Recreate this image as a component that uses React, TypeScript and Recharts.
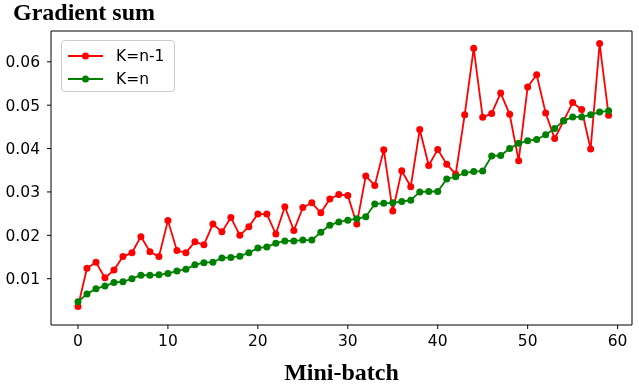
import { Label, Legend, Line, LineChart, ReferenceLine, XAxis, YAxis } from "recharts";

// Mini-batch index 0..59
const batches = [
    0, 1, 2, 3, 4, 5, 6, 7, 8, 9, 10, 11, 12, 13, 14, 15, 16, 17, 18, 19,
    20, 21, 22, 23, 24, 25, 26, 27, 28, 29, 30, 31, 32, 33, 34, 35, 36, 37, 38, 39,
    40, 41, 42, 43, 44, 45, 46, 47, 48, 49, 50, 51, 52, 53, 54, 55, 56, 57, 58, 59,
];
// K=n-1
const kMinusOne = [
    0.0036, 0.0124, 0.0138, 0.0102, 0.012, 0.0151, 0.016, 0.0197, 0.0162, 0.0151,
    0.0234, 0.0165, 0.016, 0.0185, 0.0178, 0.0226, 0.0208, 0.0241, 0.02, 0.022,
    0.0249, 0.0249, 0.0203, 0.0266, 0.0211, 0.0264, 0.0275, 0.0252, 0.0284, 0.0294,
    0.0292, 0.0226, 0.0337, 0.0315, 0.0397, 0.0256, 0.0349, 0.0312, 0.0444, 0.0361,
    0.0398, 0.0364, 0.0341, 0.0478, 0.0631, 0.0472, 0.0481, 0.0528, 0.0479, 0.0372,
    0.0542, 0.057, 0.0482, 0.0423, 0.0464, 0.0506, 0.049, 0.0399, 0.0642, 0.0477,
];
// K=n
const kN = [
    0.0047, 0.0065, 0.0077, 0.0083, 0.0091, 0.0093, 0.01, 0.0108, 0.0108, 0.0109,
    0.0112, 0.0118, 0.0122, 0.0132, 0.0137, 0.0138, 0.0148, 0.0149, 0.0152, 0.016,
    0.0171, 0.0173, 0.0182, 0.0187, 0.0187, 0.0189, 0.0189, 0.0207, 0.0223, 0.0231,
    0.0235, 0.0238, 0.0243, 0.0272, 0.0274, 0.0275, 0.0278, 0.0281, 0.03, 0.0301,
    0.0301, 0.033, 0.0335, 0.0344, 0.0347, 0.0348, 0.0383, 0.0384, 0.04, 0.0412,
    0.0418, 0.0421, 0.0432, 0.0446, 0.0464, 0.0473, 0.0473, 0.0478, 0.0484, 0.0487,
];
const seriesNames = ["K=n-1", "K=n"];
const xTicks = [0, 10, 20, 30, 40, 50, 60];
const yTicks = [0.01, 0.02, 0.03, 0.04, 0.05, 0.06];
const xDomain = [-3, 61.6];
const yDomain = [-0.00067, 0.0671];

const data = batches.map((b, i) => ({ batch: b, a: kMinusOne[i], b: kN[i] }));

const tickStyle = { fill: "#000", fontSize: 15.5, fontFamily: "DejaVu Sans" };
const serifBold = { fontFamily: "Liberation Serif", fontWeight: "bold" as const };

function LegendBox(props: any) {
    // keep the plotting order, not recharts' sorted order
    const items = [...(props.payload || [])].sort(
        (p: any, q: any) => seriesNames.indexOf(p.value) - seriesNames.indexOf(q.value)
    );
    return (
        <div style={{ width: 114, height: 52, border: "1px solid #cccccc", borderRadius: 4, background: "rgba(255,255,255,0.8)", boxSizing: "border-box", paddingTop: 3 }}>
            {items.map((it: any) => (
                <div key={it.value} style={{ display: "flex", alignItems: "center", height: 23 }}>
                    <svg width={48} height={12} style={{ marginLeft: 6 }}>
                        <line x1={0} y1={6} x2={35} y2={6} stroke={it.color} strokeWidth={1.8} />
                        <circle cx={17.5} cy={6} r={3.5} fill={it.color} />
                    </svg>
                    <span style={{ fontFamily: "DejaVu Sans", fontSize: 15.5, color: "#000" }}>{it.value}</span>
                </div>
            ))}
        </div>
    );
}

export default function App() {
    return (
        <div style={{ position: "fixed", left: 0, top: 0, width: 639, height: 390, background: "#fff" }}>
            <div style={{ position: "absolute", left: 13, top: 0, fontSize: 24, lineHeight: "24px", ...serifBold }}>Gradient sum</div>
            <LineChart width={639} height={390} data={data} margin={{ top: 31, right: 7, left: 0, bottom: 0 }}>
                <XAxis dataKey="batch" type="number" domain={xDomain} ticks={xTicks} allowDataOverflow
                    height={65} tickSize={4} tickMargin={6} tickLine={{ stroke: "#000" }} axisLine={{ stroke: "#000" }} tick={tickStyle}>
                    <Label value="Mini-batch" position="insideBottom" offset={10} style={{ fontSize: 24, fill: "#000", ...serifBold }} />
                </XAxis>
                <YAxis type="number" domain={yDomain} ticks={yTicks} allowDataOverflow width={51} tickSize={4} tickMargin={7}
                    tickFormatter={(v: number) => v.toFixed(2)} tickLine={{ stroke: "#000" }} axisLine={{ stroke: "#000" }} tick={tickStyle} />
                <ReferenceLine y={yDomain[1]} stroke="#000" strokeWidth={1} />
                <ReferenceLine x={xDomain[1]} stroke="#000" strokeWidth={1} />
                <Legend layout="vertical" align="center" verticalAlign="middle" content={<LegendBox />}
                    wrapperStyle={{ left: 61, top: 40, width: 114, height: 52 }} />
                <Line name={seriesNames[0]} dataKey="a" stroke="#ff0000" strokeWidth={1.8} dot={{ r: 3.5, fill: "#ff0000", stroke: "#ff0000", strokeWidth: 0 }} activeDot={false} isAnimationActive={false} />
                <Line name={seriesNames[1]} dataKey="b" stroke="#008000" strokeWidth={1.8} dot={{ r: 3.5, fill: "#008000", stroke: "#008000", strokeWidth: 0 }} activeDot={false} isAnimationActive={false} />
            </LineChart>
        </div>
    );
}
